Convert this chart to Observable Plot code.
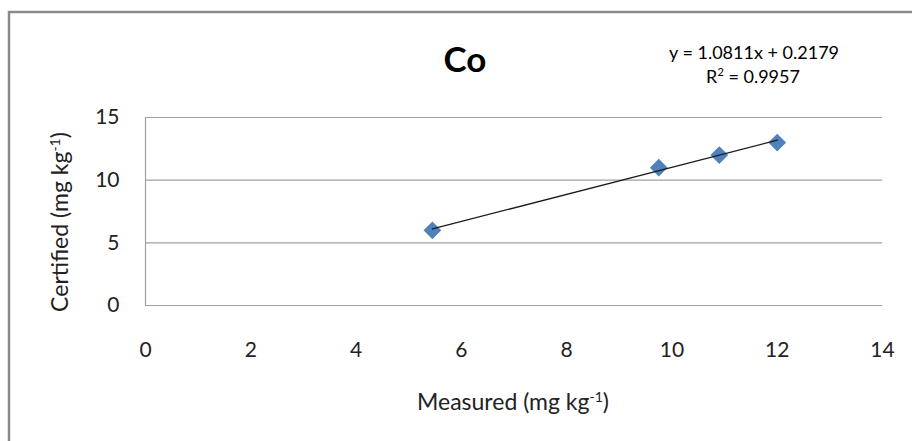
<!DOCTYPE html>
<html><head><meta charset="utf-8">
<script src="https://cdn.jsdelivr.net/npm/d3@7"></script>
<script src="https://cdn.jsdelivr.net/npm/@observablehq/plot@0.6"></script>
<style>body{margin:0;background:#fff} svg{display:block}</style>
</head><body><div id="chart"></div>
<script>
const measured = [5.45, 9.75, 10.9, 12.0];
const certified = [6, 11, 12, 13];
const xTicks = [0, 2, 4, 6, 8, 10, 12, 14];
const yTicks = [0, 5, 10, 15];
const slope = 1.0811, intercept = 0.2179, r2 = 0.9957;
const title = "Co";
const xLabel = ["Measured (mg kg", "-1", ")"];
const yLabel = ["Certified (mg kg", "-1", ")"];

const points = measured.map((m, i) => ({x: m, y: certified[i]}));
const xr = d3.extent(measured);
const trend = xr.map(x => ({x, y: slope * x + intercept}));
const eq = [`y = ${slope}x + ${intercept}`];

const font = "Lato, 'Open Sans', sans-serif";
const svg = Plot.plot({
  width: 912, height: 441,
  marginLeft: 145, marginRight: 30, marginTop: 117, marginBottom: 136,
  style: {fontFamily: font, background: "#fff", color: "#000", overflow: "visible"},
  x: {domain: [0, 14]},
  y: {domain: [0, 15]},
  marks: [
    Plot.gridY(yTicks, {stroke: "#a0a0a0", strokeOpacity: 1, strokeWidth: 1.2}),
    Plot.ruleX([0], {stroke: "#a0a0a0", strokeWidth: 1.2}),
    Plot.axisY(yTicks, {tickSize: 0, tickPadding: 26, fontSize: 21, label: null, fill: "#222"}),
    Plot.axisX(xTicks, {tickSize: 0, tickPadding: 37, fontSize: 21, label: null, fill: "#222"}),
    Plot.dot(points, {x: "x", y: "y", symbol: "diamond2", r: 8, fill: "#4F81BD", stroke: "none"}),
    Plot.line(trend, {x: "x", y: "y", stroke: "#1a1a1a", strokeWidth: 1.3}),
    Plot.text([title], {frameAnchor: "top", lineAnchor: "middle", dx: -49, dy: -57, fontSize: 35, fontWeight: "bold", fill: "#000"}),
    Plot.text(eq, {frameAnchor: "top", lineAnchor: "middle", dx: 240, dy: -64, fontSize: 18, fill: "#000"})
  ]
});
const s = d3.select(svg);
// R² line
const r2t = s.append("text").attr("x", 753).attr("y", 83).attr("text-anchor", "middle")
  .attr("font-size", 18).attr("font-family", font);
r2t.append("tspan").text("R");
r2t.append("tspan").attr("dy", -7).attr("font-size", 11).text("2");
r2t.append("tspan").attr("dy", 7).text(` = ${r2}`);
// x label
const xl = s.append("text").attr("x", 513).attr("y", 410).attr("text-anchor", "middle")
  .attr("font-size", 23).attr("font-family", font).attr("fill", "#222");
xl.append("tspan").text(xLabel[0]);
xl.append("tspan").attr("dy", -8).attr("font-size", 14).text(xLabel[1]);
xl.append("tspan").attr("dy", 8).text(xLabel[2]);
// y label
const yl = s.append("text").attr("transform", "translate(68,222) rotate(-90)").attr("text-anchor", "middle")
  .attr("font-size", 23).attr("font-family", font).attr("fill", "#222");
yl.append("tspan").text(yLabel[0]);
yl.append("tspan").attr("dy", -8).attr("font-size", 14).text(yLabel[1]);
yl.append("tspan").attr("dy", 8).text(yLabel[2]);
// outer frame
s.append("path").attr("d", "M9,460V12H930").attr("fill", "none").attr("stroke", "#8a8a8a").attr("stroke-width", 2.5);
document.getElementById("chart").appendChild(svg);
</script>
</body></html>
